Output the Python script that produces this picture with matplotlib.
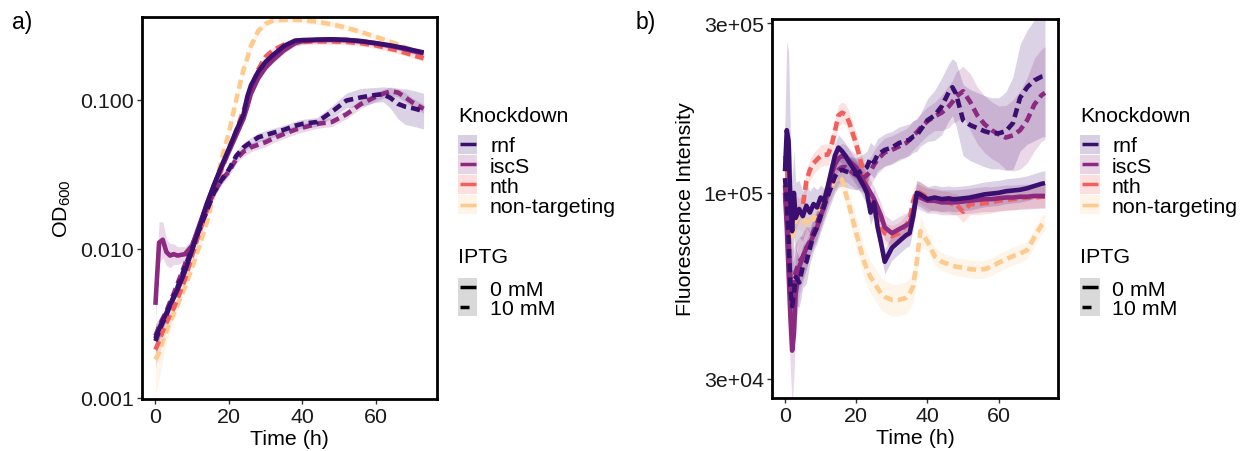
import matplotlib
matplotlib.use("Agg")
import matplotlib.pyplot as plt
from matplotlib.patches import Rectangle
from matplotlib.lines import Line2D
import numpy as np

plt.rcParams["font.family"] = ["Liberation Sans", "DejaVu Sans"]
plt.rcParams["mathtext.fontset"] = "custom"
plt.rcParams["mathtext.rm"] = "Liberation Sans"

knockdowns = ["rnf", "iscS", "nth", "non-targeting"]
iptg_levels = ["0 mM", "10 mM"]
colors = {"rnf": "#3b0f70", "iscS": "#8c2981", "nth": "#f1605d", "non-targeting": "#feca8d"}

# ---- panel a: OD600 ----
time_a = [0, 1, 2, 3, 4, 5, 6, 8, 10, 12, 14, 16, 18, 20, 22, 24, 25, 26, 28, 30,
          32, 35, 38, 40, 44, 48, 52, 56, 60, 62, 64, 66, 68, 70, 73]

od_rnf_0 = [0.0025, 0.0029, 0.0033, 0.0037, 0.0042, 0.0047, 0.0053, 0.0070, 0.0098, 0.0140,
            0.020, 0.027, 0.036, 0.047, 0.062, 0.080, 0.105, 0.125, 0.155, 0.180,
            0.200, 0.230, 0.250, 0.252, 0.254, 0.255, 0.253, 0.248, 0.240, 0.236,
            0.232, 0.227, 0.222, 0.216, 0.208]
od_iscs_0 = [0.0042, 0.0110, 0.0115, 0.0095, 0.0090, 0.0092, 0.0090, 0.0092, 0.0105, 0.0145,
             0.020, 0.027, 0.035, 0.045, 0.058, 0.075, 0.090, 0.110, 0.140, 0.165,
             0.185, 0.215, 0.240, 0.248, 0.252, 0.253, 0.252, 0.247, 0.240, 0.235,
             0.230, 0.225, 0.219, 0.213, 0.205]
od_nth_10 = [0.0021, 0.0024, 0.0028, 0.0032, 0.0036, 0.0040, 0.0046, 0.0062, 0.0090, 0.0130,
             0.018, 0.025, 0.034, 0.046, 0.062, 0.085, 0.100, 0.120, 0.160, 0.195,
             0.215, 0.235, 0.243, 0.245, 0.247, 0.247, 0.245, 0.240, 0.232, 0.226,
             0.220, 0.214, 0.207, 0.200, 0.190]
od_nt_10 = [0.0018, 0.0020, 0.0024, 0.0028, 0.0032, 0.0037, 0.0042, 0.0055, 0.0075, 0.0105,
            0.015, 0.024, 0.040, 0.060, 0.100, 0.160, 0.190, 0.230, 0.290, 0.325,
            0.340, 0.345, 0.345, 0.343, 0.335, 0.322, 0.305, 0.285, 0.265, 0.255,
            0.245, 0.235, 0.225, 0.214, 0.198]
od_rnf_10 = [0.0024, 0.0028, 0.0032, 0.0036, 0.0042, 0.0048, 0.0055, 0.0075, 0.0100, 0.0135,
             0.018, 0.024, 0.029, 0.034, 0.042, 0.048, 0.050, 0.052, 0.056, 0.058,
             0.060, 0.063, 0.067, 0.069, 0.071, 0.083, 0.099, 0.104, 0.108, 0.109,
             0.103, 0.094, 0.090, 0.088, 0.084]
od_iscs_10 = [0.0026, 0.0030, 0.0034, 0.0038, 0.0044, 0.0050, 0.0058, 0.0078, 0.0105, 0.0140,
              0.019, 0.024, 0.029, 0.033, 0.040, 0.045, 0.046, 0.048, 0.050, 0.052,
              0.055, 0.059, 0.063, 0.065, 0.069, 0.071, 0.080, 0.094, 0.105, 0.110,
              0.114, 0.112, 0.104, 0.096, 0.087]

# ribbon half-widths (log10 units)
od_sd_rnf_0 = [0.10, 0.07, 0.05, 0.04, 0.035, 0.03, 0.03, 0.03, 0.025, 0.025] + [0.02] * 10 + [0.015] * 15
od_sd_iscs_0 = [0.12, 0.14, 0.12, 0.09, 0.08, 0.07, 0.06, 0.05, 0.04, 0.03, 0.03, 0.025] + [0.02] * 23
od_sd_nth_10 = [0.12, 0.09, 0.07, 0.05, 0.05, 0.04, 0.04, 0.035, 0.03, 0.03, 0.025] + [0.02] * 24
od_sd_nt_10 = [0.25, 0.18, 0.12, 0.08, 0.06, 0.05, 0.04, 0.035, 0.03, 0.03] + [0.02] * 25
od_sd_rnf_10 = [0.08, 0.06, 0.05, 0.04, 0.04, 0.035, 0.035] + [0.03] * 18 + [0.04, 0.05, 0.06, 0.05,
                                                                           0.05, 0.07, 0.10, 0.12, 0.12, 0.12]
od_sd_iscs_10 = [0.06, 0.05, 0.04] + [0.03] * 32

# ---- panel b: fluorescence (thousands) ----
time_b = [0, 0.5, 1, 1.5, 2, 2.5, 3, 4, 5, 6, 7, 8, 9, 10, 11, 12, 13, 14, 15, 16,
          17, 18, 20, 22, 23, 24, 25, 26, 27, 28, 30, 32, 34, 35, 36, 37, 38, 40, 42, 44,
          46, 47, 48, 50, 52, 54, 56, 58, 60, 62, 64, 66, 68, 70, 72, 73]

fl_rnf_0 = [115, 150, 140, 95, 78, 100, 85, 90, 86, 92, 88, 93, 91, 97, 95, 104, 115, 127, 134, 131,
            127, 122, 114, 105, 100, 88, 94, 80, 72, 64, 70, 73, 76, 77, 86, 100, 99, 96, 97, 96,
            96.5, 96, 96, 96.5, 97, 98, 99, 99.5, 100, 101, 101.5, 102, 103, 104.5, 106, 106.5]
fl_iscs_0 = [100, 80, 60, 45, 36, 40, 52, 62, 66, 70, 72, 76, 80, 86, 92, 100, 112, 120, 125, 127,
             126, 123, 118, 108, 104, 100, 96, 91, 86, 80, 77, 79, 81, 82, 88, 98, 97, 95, 95, 94,
             94, 94, 94, 94.5, 95, 95.5, 96, 96, 96.5, 97, 97, 97.5, 97.5, 98, 98, 98]
fl_nth_10 = [127, 118, 104, 95, 90, 88, 88, 90, 92, 108, 116, 121, 124, 127, 128, 128, 135, 149, 165, 168,
             166, 158, 137, 115, 104, 96, 90, 85, 80, 77, 75.5, 77, 81, 84, 95, 101, 100, 97, 95, 94.5,
             94, 93, 93, 88.5, 93, 93, 93.5, 94, 95, 95.5, 96, 96.5, 97, 97, 97.5, 97.5]
fl_nt_10 = [96, 90, 82, 76, 74, 78, 84, 86, 84, 82, 86, 84, 88, 92, 96, 100, 104, 109, 111, 109,
            100, 92, 77, 65, 61, 58, 56, 54, 52, 51, 50, 50, 50.7, 52, 54.7, 64, 78, 73, 66.4, 64,
            63, 62.5, 62, 61.6, 61, 60.8, 61, 62, 63.6, 65, 66.4, 67.5, 69, 75, 81, 83]
fl_rnf_10 = [110, 95, 75, 55, 48, 52, 58, 56, 62, 64, 70, 76, 80, 86, 92, 98, 104, 111, 115, 116,
             115, 114, 113, 116, 118, 125, 122, 128, 130, 132, 134, 138, 140, 141, 144, 145, 150, 160, 165, 175,
             192, 198, 190, 160, 155, 152, 149, 147, 147, 149, 157, 185, 198, 207, 212, 213]
fl_iscs_10 = [105, 90, 72, 58, 52, 56, 60, 64, 66, 70, 73, 78, 82, 88, 94, 100, 106, 112, 116, 118,
              118, 116, 112, 110, 112, 115, 120, 124, 127, 130, 132, 135, 138, 141, 145, 148, 152, 159, 164, 168,
              175, 180, 186, 193, 180, 165, 156, 150, 146, 143, 145, 150, 160, 177, 188, 191]

fl_sd_rnf_0 = [0.15, 0.25, 0.25, 0.20, 0.15, 0.12, 0.10, 0.08, 0.07, 0.06, 0.06, 0.05, 0.05] + [0.035] * 43
fl_sd_iscs_0 = [0.10, 0.12, 0.15, 0.15, 0.15, 0.12, 0.10, 0.08, 0.07, 0.06] + [0.035] * 46
fl_sd_nth_10 = [0.10, 0.10, 0.08, 0.07, 0.06, 0.05, 0.05] + [0.03] * 49
fl_sd_nt_10 = [0.06, 0.06, 0.06, 0.05, 0.05] + [0.035] * 17 + [0.045] * 15 + [0.025] * 19
fl_sd_rnf_10 = ([0.12, 0.15, 0.15, 0.15, 0.12, 0.10, 0.08, 0.07, 0.06, 0.06] + [0.045] * 27
                + [0.06, 0.07, 0.08, 0.08, 0.08, 0.09]
                + [0.10, 0.10, 0.10, 0.10, 0.10, 0.10, 0.11, 0.13, 0.15, 0.16, 0.17, 0.17, 0.17])
fl_sd_iscs_10 = ([0.12, 0.15, 0.15, 0.15, 0.12, 0.10, 0.08, 0.07, 0.06, 0.06] + [0.04] * 29
                 + [0.05, 0.06, 0.06, 0.07, 0.07, 0.08, 0.08, 0.08, 0.08, 0.08, 0.09, 0.10,
                    0.11, 0.12, 0.13, 0.13, 0.13])

# plotting order (drawn first -> last)
series_a = [("non-targeting", "10 mM", od_nt_10, od_sd_nt_10),
            ("nth", "10 mM", od_nth_10, od_sd_nth_10),
            ("iscS", "10 mM", od_iscs_10, od_sd_iscs_10),
            ("iscS", "0 mM", od_iscs_0, od_sd_iscs_0),
            ("rnf", "10 mM", od_rnf_10, od_sd_rnf_10),
            ("rnf", "0 mM", od_rnf_0, od_sd_rnf_0)]
series_b = [("non-targeting", "10 mM", fl_nt_10, fl_sd_nt_10),
            ("nth", "10 mM", fl_nth_10, fl_sd_nth_10),
            ("iscS", "10 mM", fl_iscs_10, fl_sd_iscs_10),
            ("iscS", "0 mM", fl_iscs_0, fl_sd_iscs_0),
            ("rnf", "10 mM", fl_rnf_10, fl_sd_rnf_10),
            ("rnf", "0 mM", fl_rnf_0, fl_sd_rnf_0)]

W, H = 1248, 452
fig = plt.figure(figsize=(W / 100, H / 100), dpi=100)
FS = 15.4
DASH = (0, (2.0, 1.1))


def fx(x):
    return x / W


def fy(y):
    return 1 - y / H


def draw_panel(ax, t, series, scale):
    t = np.array(t)
    for kd, iptg, vals, sd in series:
        v = np.array(vals) * scale
        s = 10 ** np.array(sd)
        ax.fill_between(t, v / s, v * s, color=colors[kd], alpha=0.18, lw=0)
    for kd, iptg, vals, sd in series:
        v = np.array(vals) * scale
        ax.plot(t, v, color=colors[kd], lw=3.3,
                ls="-" if iptg == "0 mM" else DASH, solid_capstyle="butt")
    ax.set_yscale("log")
    ax.set_xlim(-3.65, 76.65)
    ax.set_xticks([0, 20, 40, 60])
    ax.minorticks_off()
    ax.set_xlabel("Time (h)", fontsize=FS, labelpad=2)
    for sp in ax.spines.values():
        sp.set_linewidth(2.0)
        sp.set_color("black")
    ax.tick_params(labelsize=FS, length=3.5, width=1.0, color="#333333",
                   labelcolor="#1a1a1a", pad=2.5)


ax1 = fig.add_axes([fx(142), fy(400), fx(437) - fx(142), fy(18) - fy(400)])
draw_panel(ax1, time_a, series_a, 1.0)
ax1.set_ylim(0.00098, 0.36)
ax1.set_yticks([0.001, 0.01, 0.1])
ax1.set_yticklabels(["0.001", "0.010", "0.100"])
ax1.set_ylabel("OD$_{600}$", fontsize=FS, labelpad=5)

ax2 = fig.add_axes([fx(772), fy(399), fx(1058) - fx(772), fy(20) - fy(399)])
draw_panel(ax2, time_b, series_b, 1000.0)
ax2.set_ylim(2.65e4, 3.08e5)
ax2.set_yticks([3e4, 1e5, 3e5])
ax2.set_yticklabels(["3e+04", "1e+05", "3e+05"])
ax2.set_ylabel("Fluorescence Intensity", fontsize=FS, labelpad=6)

fig.text(fx(12), fy(23), "a)", fontsize=16.5, va="center", ha="left")
fig.text(fx(636), fy(23), "b)", fontsize=16.5, va="center", ha="left")


def draw_legend(x0):
    fig.text(fx(x0), fy(121.5), "Knockdown", fontsize=FS, va="baseline", ha="left")
    for i, kd in enumerate(knockdowns):
        yc = 145 + 20.2 * i
        fig.patches.append(Rectangle((fx(x0), fy(yc + 9.5)), fx(19.5), fy(0) - fy(19),
                                     transform=fig.transFigure, facecolor=colors[kd],
                                     alpha=0.2, lw=0))
        fig.lines.append(Line2D([fx(x0 + 1.5), fx(x0 + 18)], [fy(yc), fy(yc)],
                                transform=fig.transFigure, color=colors[kd], lw=2.5,
                                solid_capstyle="butt"))
        fig.text(fx(x0 + 32), fy(yc), kd, fontsize=FS, va="center_baseline", ha="left")
    fig.text(fx(x0), fy(263), "IPTG", fontsize=FS, va="baseline", ha="left")
    for i, lev in enumerate(iptg_levels):
        yc = 288 + 19.5 * i
        fig.patches.append(Rectangle((fx(x0), fy(yc + 9.5)), fx(19.5), fy(0) - fy(19),
                                     transform=fig.transFigure, facecolor="#d9d9d9", lw=0))
        xe = x0 + 18 if lev == "0 mM" else x0 + 11
        fig.lines.append(Line2D([fx(x0 + 1.5), fx(xe)], [fy(yc), fy(yc)],
                                transform=fig.transFigure, color="black", lw=2.5,
                                solid_capstyle="butt"))
        fig.text(fx(x0 + 32), fy(yc), lev, fontsize=FS, va="center_baseline", ha="left")


draw_legend(458)
draw_legend(1080)

fig.savefig("out.png", dpi=100)
